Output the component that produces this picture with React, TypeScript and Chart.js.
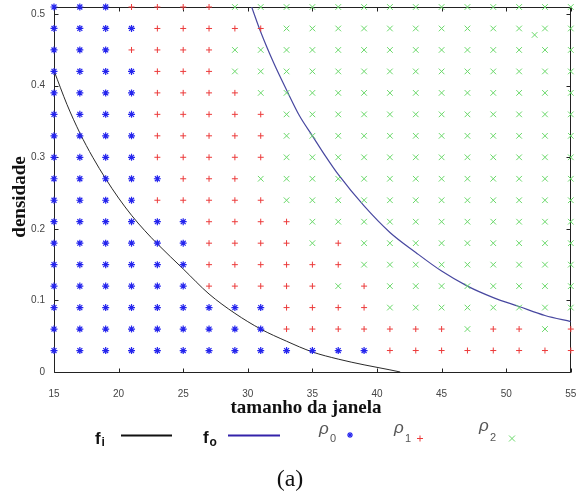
import React, { useEffect, useRef } from 'react';
import { Chart, registerables } from 'chart.js';

Chart.register(...registerables);

// ---- data ----
const X_COLUMNS = [15, 17, 19, 21, 23, 25, 27, 29, 31, 33, 35, 37, 39, 41, 43, 45, 47, 49, 51, 53, 55];
const Y_ROWS = [0.51, 0.48, 0.45, 0.42, 0.39, 0.36, 0.33, 0.30, 0.27, 0.24, 0.21, 0.18, 0.15, 0.12, 0.09, 0.06, 0.03];
// B = rho0 (blue *), R = rho1 (red +), G = rho2 (green x); one string per row, one char per column
const CLASS_GRID = [
  'BBB' + 'RRRR' + 'GGGGGGGGGGGGGG', // 0.51
  'BBBB' + 'RRRRR' + 'GGGGGGGGGGGG', // 0.48
  'BBB' + 'RRRR' + 'GGGGGGGGGGGGGG', // 0.45
  'BBBB' + 'RRR' + 'GGGGGGGGGGGGGG', // 0.42
  'BBBB' + 'RRRR' + 'GGGGGGGGGGGGG', // 0.39
  'BBBB' + 'RRRRR' + 'GGGGGGGGGGGG', // 0.36
  'BBBB' + 'RRRRR' + 'GGGGGGGGGGGG', // 0.33
  'BBBB' + 'RRRRR' + 'GGGGGGGGGGGG', // 0.30
  'BBBBB' + 'RRR' + 'GGGGGGGGGGGGG', // 0.27
  'BBBB' + 'RRRRR' + 'GGGGGGGGGGGG', // 0.24
  'BBBBBB' + 'RRRR' + 'GGGGGGGGGGG', // 0.21
  'BBBBBB' + 'RRRR' + 'GRG' + 'GGGGGGGG', // 0.18
  'BBBBBB' + 'RRRR' + 'RRG' + 'GGGGGGGG', // 0.15
  'BBBBBB' + 'RRRR' + 'RGR' + 'GGGGGGGG', // 0.12
  'BBBBBBBBB' + 'R' + 'RRR' + 'GGGGGGGG', // 0.09
  'BBBBBBBBB' + 'R' + 'RRRRRRGRRGR', // 0.06
  'BBBBBBBBBB' + 'BBB' + 'RRRRRRRR', // 0.03
];
const RHO2_EXTRA_X = [52.2];
const RHO2_EXTRA_Y = [0.471];

const FI_X = [15, 16, 17, 18, 19, 20, 21, 22, 23, 25, 27, 29, 31, 33, 35, 37, 39, 41, 41.8];
const FI_Y = [0.421, 0.374, 0.334, 0.3, 0.27, 0.243, 0.219, 0.198, 0.179, 0.144, 0.109, 0.082, 0.06, 0.043, 0.028, 0.018, 0.01, 0.003, 0];

const FO_X = [30.3, 31, 32, 33, 34, 35, 36, 37, 39, 41, 43, 45, 47, 49, 51, 53, 55];
const FO_Y = [0.51, 0.475, 0.432, 0.394, 0.358, 0.33, 0.302, 0.276, 0.232, 0.195, 0.167, 0.141, 0.12, 0.104, 0.0915, 0.079, 0.0705];

const X_TICKS = [15, 20, 25, 30, 35, 40, 45, 50, 55];
const Y_TICKS = [0, 0.1, 0.2, 0.3, 0.4, 0.5];

const BLUE = '#2424ee';
const RED = '#ec3b3b';
const GREEN = '#6ad86a';

function pointsFor(code: string) {
  const pts: { x: number; y: number }[] = [];
  CLASS_GRID.forEach((row, r) => {
    for (let c = 0; c < row.length; c++) {
      if (row[c] === code) pts.push({ x: X_COLUMNS[c], y: Y_ROWS[r] });
    }
  });
  return pts;
}

const framePlugin = {
  id: 'frameTicks',
  beforeDatasetsDraw(chart: any) {
    const { ctx, chartArea } = chart;
    const xs = chart.scales.x;
    const ys = chart.scales.y;
    const l = Math.round(chartArea.left) + 0.5;
    const r = Math.round(chartArea.right) - 0.5;
    const t = Math.round(chartArea.top) + 0.5;
    const b = Math.round(chartArea.bottom) + 0.5;
    ctx.save();
    ctx.strokeStyle = '#222';
    ctx.lineWidth = 1;
    ctx.beginPath();
    ctx.rect(l, t, r - l, b - t);
    X_TICKS.forEach((v) => {
      const px = Math.round(xs.getPixelForValue(v)) + 0.5;
      ctx.moveTo(px, b);
      ctx.lineTo(px, b - 4);
      ctx.moveTo(px, t);
      ctx.lineTo(px, t + 4);
    });
    Y_TICKS.forEach((v) => {
      const py = Math.round(ys.getPixelForValue(v)) + 0.5;
      ctx.moveTo(l, py);
      ctx.lineTo(l + 4, py);
      ctx.moveTo(r, py);
      ctx.lineTo(r - 4, py);
    });
    ctx.stroke();
    ctx.restore();
  },
};

export default function App() {
  const canvasRef = useRef<HTMLCanvasElement | null>(null);

  useEffect(() => {
    const canvas = canvasRef.current;
    if (!canvas) return;
    const tickFont = { family: '"Liberation Sans", Arial, sans-serif', size: 10 };
    const rho2 = pointsFor('G').concat(RHO2_EXTRA_X.map((x, i) => ({ x, y: RHO2_EXTRA_Y[i] })));
    const chart = new Chart(canvas, {
      type: 'scatter',
      data: {
        datasets: [
          {
            label: 'rho0',
            data: pointsFor('B'),
            pointStyle: 'star',
            pointRadius: 3.5,
            pointBorderColor: BLUE,
            pointBackgroundColor: BLUE,
            pointBorderWidth: 1.2,
            clip: false,
          } as any,
          {
            label: 'rho1',
            data: pointsFor('R'),
            pointStyle: 'cross',
            pointRadius: 3,
            pointBorderColor: RED,
            pointBackgroundColor: RED,
            pointBorderWidth: 1,
            clip: false,
          } as any,
          {
            label: 'rho2',
            data: rho2,
            pointStyle: 'crossRot',
            pointRadius: 4,
            pointBorderColor: GREEN,
            pointBackgroundColor: GREEN,
            pointBorderWidth: 1,
            clip: false,
          } as any,
          {
            label: 'f_i',
            data: FI_X.map((x, i) => ({ x, y: FI_Y[i] })),
            showLine: true,
            borderColor: '#2a2a2a',
            borderWidth: 1,
            pointRadius: 0,
            cubicInterpolationMode: 'monotone',
            fill: false,
          } as any,
          {
            label: 'f_o',
            data: FO_X.map((x, i) => ({ x, y: FO_Y[i] })),
            showLine: true,
            borderColor: '#4848a0',
            borderWidth: 1.2,
            pointRadius: 0,
            cubicInterpolationMode: 'monotone',
            fill: false,
          } as any,
        ],
      },
      options: {
        animation: false,
        responsive: false,
        maintainAspectRatio: false,
        layout: { padding: { top: 7, right: 3, left: 0, bottom: 0 } },
        plugins: { legend: { display: false }, tooltip: { enabled: false } },
        scales: {
          x: {
            type: 'linear',
            min: 15,
            max: 55,
            afterBuildTicks: (s: any) => {
              s.ticks = X_TICKS.map((value) => ({ value }));
            },
            afterFit: (s: any) => {
              s.height = 38;
              s.paddingLeft = 0;
              s.paddingRight = 0;
            },
            ticks: {
              padding: 16,
              font: tickFont,
              color: '#444',
              maxRotation: 0,
              autoSkip: false,
              callback: (v: any) => String(v),
            },
            grid: { display: false, drawTicks: false },
            border: { display: false },
          },
          y: {
            type: 'linear',
            min: 0,
            max: 0.51,
            afterBuildTicks: (s: any) => {
              s.ticks = Y_TICKS.map((value) => ({ value }));
            },
            afterFit: (s: any) => {
              s.width = 54;
              s.paddingTop = 0;
              s.paddingBottom = 0;
            },
            ticks: {
              padding: 9,
              font: tickFont,
              color: '#444',
              autoSkip: false,
              callback: (v: any) => String(v),
            },
            grid: { display: false, drawTicks: false },
            border: { display: false },
          },
        },
      } as any,
      plugins: [framePlugin],
    });
    return () => chart.destroy();
  }, []);

  const serif = '"Liberation Serif", "Times New Roman", serif';
  const sans = '"Liberation Sans", Arial, sans-serif';

  return (
    <div style={{ position: 'absolute', left: 0, top: 0, width: 576, height: 492, background: '#fff', overflow: 'hidden' }}>
      <canvas ref={canvasRef} width={576} height={410} style={{ position: 'absolute', left: 0, top: 0, width: 576, height: 410 }} />
      <svg width={576} height={492} style={{ position: 'absolute', left: 0, top: 0, pointerEvents: 'none' }}>
        <text transform="translate(25,197) rotate(-90)" textAnchor="middle" fontFamily={serif} fontWeight="bold" fontSize={19} fill="#111">
          densidade
        </text>
        <text x={306} y={413} textAnchor="middle" fontFamily={serif} fontWeight="bold" fontSize={19} fill="#111">
          tamanho da janela
        </text>

        {/* legend: f_i */}
        <text x={95} y={444} fontFamily={sans} fontWeight="bold" fontSize={17} fill="#111">f</text>
        <text x={101.5} y={446} fontFamily={sans} fontWeight="bold" fontSize={12} fill="#111">i</text>
        <line x1={121} x2={172} y1={435.5} y2={435.5} stroke="#111" strokeWidth={2} />

        {/* legend: f_o */}
        <text x={203} y={443} fontFamily={sans} fontWeight="bold" fontSize={17} fill="#111">f</text>
        <text x={209.5} y={445.5} fontFamily={sans} fontWeight="bold" fontSize={12} fill="#111">o</text>
        <line x1={228} x2={280} y1={435.5} y2={435.5} stroke="#3322aa" strokeWidth={2} />

        {/* legend: rho0 */}
        <text x={319} y={434} fontFamily={sans} fontStyle="italic" fontSize={17} fill="#555">ρ</text>
        <text x={330} y={442} fontFamily={sans} fontSize={11} fill="#555">0</text>
        <g stroke={BLUE} strokeWidth={1.2}>
          <line x1={347} x2={353} y1={435} y2={435} />
          <line x1={350} x2={350} y1={432} y2={438} />
          <line x1={348} x2={352} y1={433} y2={437} />
          <line x1={348} x2={352} y1={437} y2={433} />
        </g>

        {/* legend: rho1 */}
        <text x={394} y={433} fontFamily={sans} fontStyle="italic" fontSize={17} fill="#555">ρ</text>
        <text x={405} y={441.5} fontFamily={sans} fontSize={11} fill="#555">1</text>
        <g stroke={RED} strokeWidth={1}>
          <line x1={417} x2={423} y1={438.5} y2={438.5} />
          <line x1={420} x2={420} y1={435.5} y2={441.5} />
        </g>

        {/* legend: rho2 */}
        <text x={479} y={431} fontFamily={sans} fontStyle="italic" fontSize={17} fill="#555">ρ</text>
        <text x={490} y={440.5} fontFamily={sans} fontSize={11} fill="#555">2</text>
        <g stroke={GREEN} strokeWidth={1}>
          <line x1={509} x2={515} y1={435.5} y2={441.5} />
          <line x1={509} x2={515} y1={441.5} y2={435.5} />
        </g>

        <text x={290} y={486} textAnchor="middle" fontFamily={serif} fontSize={24} fill="#111">(a)</text>
      </svg>
    </div>
  );
}
